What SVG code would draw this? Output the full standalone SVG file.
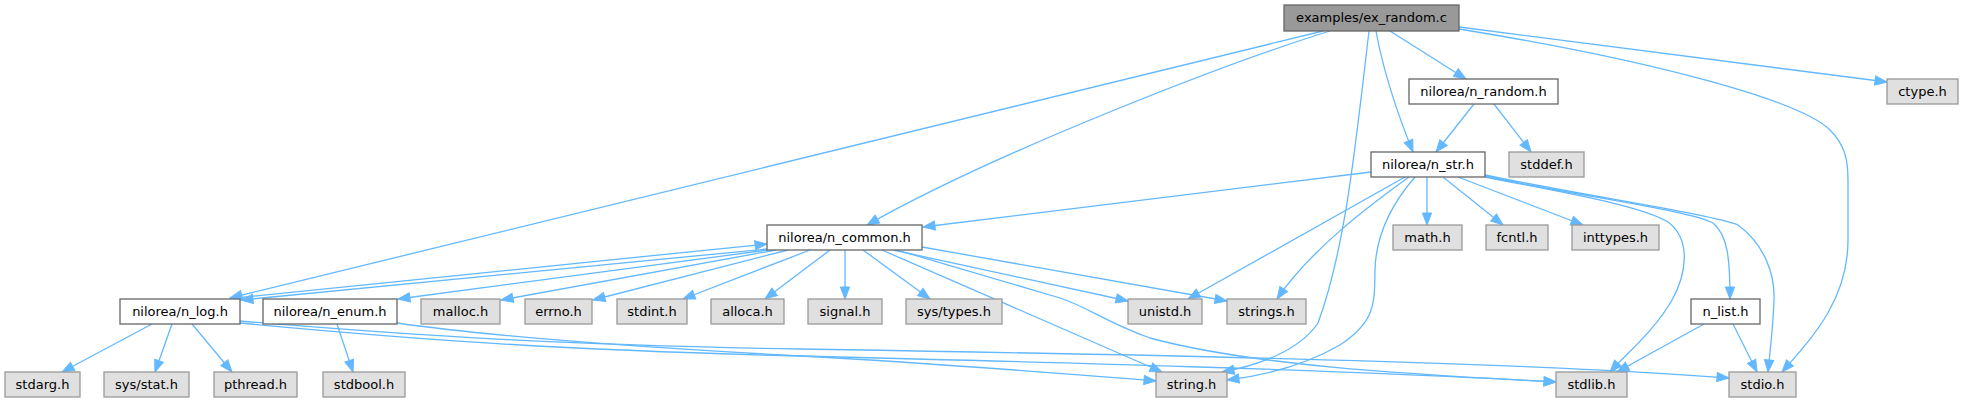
<svg xmlns="http://www.w3.org/2000/svg" width="1963" height="403" viewBox="0 0 1963 403">
<style>
rect{stroke-width:1.3}
.m{fill:#999999;stroke:#666666}
.w{fill:#ffffff;stroke:#666666}
.g{fill:#e0e0e0;stroke:#999999}
text{font-family:"DejaVu Sans","Liberation Sans",sans-serif;font-size:13px;fill:#000;text-anchor:middle}
#edges path{fill:none;stroke:#63b8ff;stroke-width:1.3;marker-end:url(#a)}
</style>
<defs>
<marker id="a" markerUnits="userSpaceOnUse" markerWidth="13" markerHeight="10" refX="12" refY="5" orient="auto" viewBox="0 0 13 10" overflow="visible">
<path d="M0,0.4 L12,5 L0,9.6 z" fill="#63b8ff" stroke="#63b8ff" stroke-width="1"/>
</marker>
</defs>
<rect width="1963" height="403" fill="#ffffff"/>
<g id="edges">
<path d="M1323,31 L230,298"/>
<path d="M1330,31 C1230,62 1000,150 867,225"/>
<path d="M1369,31 C1355,150 1345,250 1318,323 C1300,350 1260,365 1222,372"/>
<path d="M1376,31 C1385,80 1400,120 1413,152"/>
<path d="M1390,31 L1466,79"/>
<path d="M1459,27 L1887,82"/>
<path d="M1459,29 C1650,60 1800,100 1830,130 C1845,145 1848,160 1848,180 L1848,240 C1848,300 1812,338 1782,372"/>
<path d="M1474,104 L1436,152"/>
<path d="M1494,104 L1531,152"/>
<path d="M1371,172 L923,227"/>
<path d="M1427,177 L1427,225"/>
<path d="M1443,177 L1503,225"/>
<path d="M1458,177 L1583,225"/>
<path d="M1405,177 L1188,299"/>
<path d="M1409,177 C1370,205 1310,250 1277,299"/>
<path d="M1415,177 C1395,200 1376,230 1375,270 C1374,300 1378,320 1340,345 C1300,368 1260,376 1227,380"/>
<path d="M1485,177 C1560,192 1640,205 1668,222 C1692,240 1686,275 1672,300 C1655,330 1628,352 1610,372"/>
<path d="M1485,176 C1570,195 1690,210 1713,223 C1728,235 1730,260 1730,299"/>
<path d="M1485,175 C1580,195 1715,215 1738,225 C1765,245 1775,275 1774,300 C1773,330 1770,350 1768,372"/>
<path d="M767,249 L241,300"/>
<path d="M236,298 L767,244"/>
<path d="M768,250 L398,299"/>
<path d="M776,250 L501,300"/>
<path d="M788,250 L593,300"/>
<path d="M810,250 L683,299"/>
<path d="M830,250 L765,299"/>
<path d="M845,250 L845,299"/>
<path d="M863,250 L930,299"/>
<path d="M893,250 L1128,301"/>
<path d="M922,247 L1227,301"/>
<path d="M882,250 L1162,372"/>
<path d="M897,250 L1060,298 C1090,308 1105,322 1150,338 C1250,365 1400,374 1556,382"/>
<path d="M152,324 L62,372"/>
<path d="M172,324 L155,372"/>
<path d="M192,324 L232,372"/>
<path d="M240,323 C420,340 560,350 800,356 C1040,362 1350,370 1556,382"/>
<path d="M240,321 C420,336 560,345 800,349 C1040,353 1500,360 1729,378"/>
<path d="M337,324 L353,372"/>
<path d="M397,323 C480,335 600,345 800,356 C950,364 1080,375 1156,381"/>
<path d="M1704,324 L1617,372"/>
<path d="M1733,324 L1757,372"/>
</g>
<g id="n_ex_random"><rect class="m" x="1284" y="5" width="175" height="26"/><text x="1371.5" y="22">examples/ex_random.c</text></g>
<g id="n_random"><rect class="w" x="1409" y="79" width="149" height="25"/><text x="1483.5" y="96">nilorea/n_random.h</text></g>
<g id="n_ctype"><rect class="g" x="1887" y="79" width="71" height="25"/><text x="1922.5" y="96">ctype.h</text></g>
<g id="n_str"><rect class="w" x="1371" y="152" width="114" height="25"/><text x="1428" y="169">nilorea/n_str.h</text></g>
<g id="n_stddef"><rect class="g" x="1509" y="152" width="75" height="25"/><text x="1546.5" y="169">stddef.h</text></g>
<g id="n_common"><rect class="w" x="767" y="225" width="155" height="25"/><text x="844.5" y="242">nilorea/n_common.h</text></g>
<g id="n_math"><rect class="g" x="1393" y="225" width="69" height="25"/><text x="1427.5" y="242">math.h</text></g>
<g id="n_fcntl"><rect class="g" x="1486" y="225" width="62" height="25"/><text x="1517" y="242">fcntl.h</text></g>
<g id="n_inttypes"><rect class="g" x="1572" y="225" width="87" height="25"/><text x="1615.5" y="242">inttypes.h</text></g>
<g id="n_log"><rect class="w" x="120" y="299" width="120" height="25"/><text x="180" y="316">nilorea/n_log.h</text></g>
<g id="n_enum"><rect class="w" x="263" y="299" width="134" height="25"/><text x="330" y="316">nilorea/n_enum.h</text></g>
<g id="n_malloc"><rect class="g" x="421" y="299" width="79" height="25"/><text x="460.5" y="316">malloc.h</text></g>
<g id="n_errno"><rect class="g" x="525" y="299" width="67" height="25"/><text x="558.5" y="316">errno.h</text></g>
<g id="n_stdint"><rect class="g" x="617" y="299" width="70" height="25"/><text x="652" y="316">stdint.h</text></g>
<g id="n_alloca"><rect class="g" x="711" y="299" width="73" height="25"/><text x="747.5" y="316">alloca.h</text></g>
<g id="n_signal"><rect class="g" x="808" y="299" width="74" height="25"/><text x="845" y="316">signal.h</text></g>
<g id="n_systypes"><rect class="g" x="906" y="299" width="96" height="25"/><text x="954" y="316">sys/types.h</text></g>
<g id="n_unistd"><rect class="g" x="1128" y="299" width="74" height="25"/><text x="1165" y="316">unistd.h</text></g>
<g id="n_strings"><rect class="g" x="1227" y="299" width="79" height="25"/><text x="1266.5" y="316">strings.h</text></g>
<g id="n_list"><rect class="w" x="1691" y="299" width="69" height="25"/><text x="1725.5" y="316">n_list.h</text></g>
<g id="n_stdarg"><rect class="g" x="5" y="372" width="75" height="25"/><text x="42.5" y="389">stdarg.h</text></g>
<g id="n_sysstat"><rect class="g" x="104" y="372" width="85" height="25"/><text x="146.5" y="389">sys/stat.h</text></g>
<g id="n_pthread"><rect class="g" x="214" y="372" width="83" height="25"/><text x="255.5" y="389">pthread.h</text></g>
<g id="n_stdbool"><rect class="g" x="323" y="372" width="82" height="25"/><text x="364" y="389">stdbool.h</text></g>
<g id="n_string"><rect class="g" x="1156" y="372" width="71" height="25"/><text x="1191.5" y="389">string.h</text></g>
<g id="n_stdlib"><rect class="g" x="1556" y="372" width="71" height="25"/><text x="1591.5" y="389">stdlib.h</text></g>
<g id="n_stdio"><rect class="g" x="1729" y="372" width="67" height="25"/><text x="1762.5" y="389">stdio.h</text></g>
</svg>
